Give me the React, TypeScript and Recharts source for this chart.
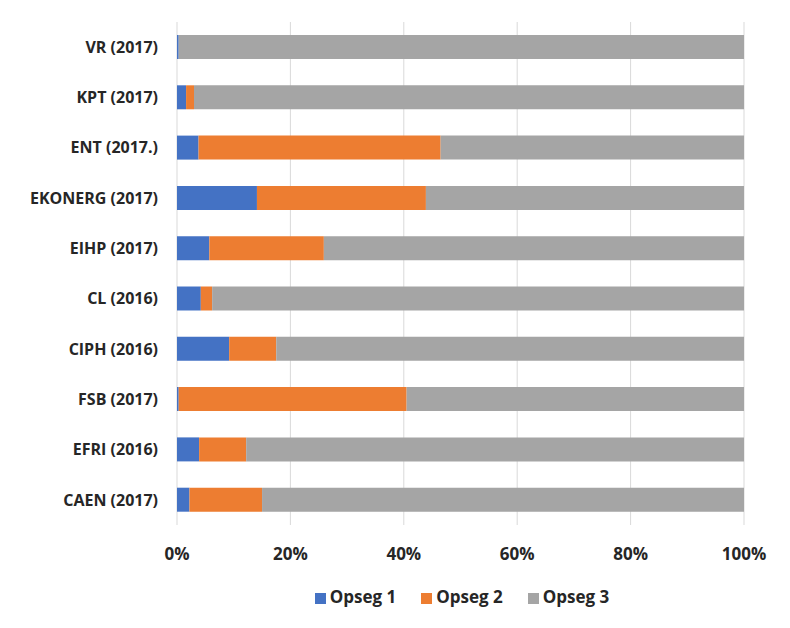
import { BarChart, Bar, XAxis, YAxis, CartesianGrid, Legend } from "recharts"

const categories = [
  "VR (2017)",
  "KPT (2017)",
  "ENT (2017.)",
  "EKONERG (2017)",
  "EIHP (2017)",
  "CL (2016)",
  "CIPH (2016)",
  "FSB (2017)",
  "EFRI (2016)",
  "CAEN (2017)",
]

const opseg1 = [0.3, 1.6, 3.8, 14.1, 5.7, 4.2, 9.2, 0.3, 3.9, 2.2]
const opseg2 = [0, 1.4, 42.7, 29.8, 20.2, 2.0, 8.3, 40.2, 8.3, 12.8]
const opseg3 = [99.7, 97.0, 53.5, 56.1, 74.1, 93.8, 82.5, 59.5, 87.8, 85.0]

const xTicks = [0, 20, 40, 60, 80, 100]

const data = categories.map((name, i) => ({
  name,
  o1: opseg1[i],
  o2: opseg2[i],
  o3: opseg3[i],
}))

const font = "'Open Sans', sans-serif"

export default function App() {
  return (
    <div style={{ position: "absolute", left: 0, top: 0, width: 790, height: 628, background: "#fff", fontFamily: font }}>
      <BarChart
        width={790}
        height={628}
        data={data}
        layout="vertical"
        margin={{ top: 22, right: 46, left: 0, bottom: 39 }}
        barSize={24}
      >
        <CartesianGrid horizontal={false} stroke="#d9d9d9" strokeWidth={1} />
        <XAxis
          type="number"
          domain={[0, 100]}
          ticks={xTicks}
          tickFormatter={(v) => `${v}%`}
          axisLine={false}
          tickLine={false}
          tickMargin={17}
          height={41}
          tick={{ fontSize: 17, fontWeight: 700, fill: "#262626", fontFamily: font }}
        />
        <YAxis
          type="category"
          dataKey="name"
          width={177}
          axisLine={false}
          tickLine={false}
          tickMargin={13}
          tick={{ fontSize: 16, fontWeight: 700, fill: "#262626", fontFamily: font }}
        />
        <Legend
          verticalAlign="bottom"
          align="center"
          iconType="square"
          iconSize={11}
          wrapperStyle={{ left: 191, width: 567, bottom: 20, fontSize: 17, fontWeight: 700, fontFamily: font }}
          formatter={(value) => <span style={{ color: "#262626", marginRight: 15 }}>{value}</span>}
        />
        <Bar dataKey="o1" name="Opseg 1" stackId="a" fill="#4472C4" isAnimationActive={false} />
        <Bar dataKey="o2" name="Opseg 2" stackId="a" fill="#ED7D31" isAnimationActive={false} />
        <Bar dataKey="o3" name="Opseg 3" stackId="a" fill="#A5A5A5" isAnimationActive={false} />
      </BarChart>
    </div>
  )
}
